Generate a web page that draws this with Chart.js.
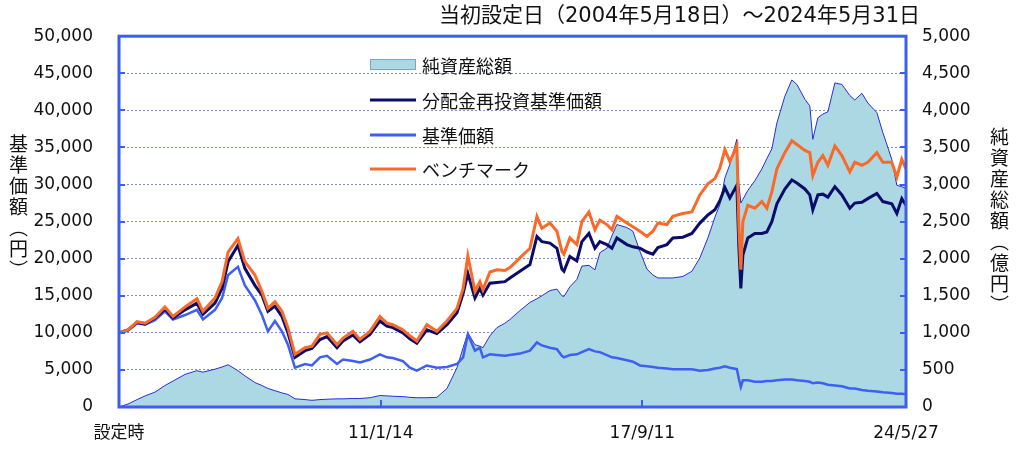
<!DOCTYPE html>
<html>
<head>
<meta charset="utf-8">
<script src="https://cdn.jsdelivr.net/npm/chart.js@4.4.1/dist/chart.umd.min.js"></script>
<style>
html,body{margin:0;padding:0;background:#fff;}
#wrap{position:relative;width:1024px;height:457px;overflow:hidden;}
#c{position:absolute;left:0;top:0;}
.t{position:absolute;color:#111;white-space:nowrap;z-index:2;}
#title{right:104px;top:3px;font-family:"DejaVu Sans","Noto Sans CJK JP",sans-serif;font-size:21px;line-height:24px;}
.vt{writing-mode:vertical-rl;font-family:"Noto Sans CJK JP",sans-serif;font-size:19px;line-height:19px;letter-spacing:2px;}
#ltitle{left:9px;top:134px;}
#rtitle{left:990px;top:127px;}
</style>
</head>
<body>
<div id="wrap">
  <canvas id="c" width="1024" height="457" style="width:1024px;height:457px;"></canvas>
  <div class="t" id="title">当初設定日（2004年5月18日）～2024年5月31日</div>
  <div class="t vt" id="ltitle">基準価額（円）</div>
  <div class="t vt" id="rtitle">純資産総額（億円）</div>
</div>
<script>
// ---- data ----
const dates = [
 '2004-05-18','2004-08-10','2004-11-02','2005-01-15','2005-04-17','2005-07-19','2005-10-02','2006-01-22','2006-05-12','2006-07-07',
 '2006-10-27','2007-01-01','2007-02-26','2007-05-28','2007-08-01','2007-11-02','2008-01-06','2008-03-02','2008-05-06','2008-07-10',
 '2008-09-04','2008-11-08','2009-02-10','2009-04-15','2009-06-29','2009-09-02','2009-12-04','2010-01-29','2010-05-01','2010-07-05',
 '2010-10-06','2011-01-07','2011-03-12','2011-05-07','2011-08-08','2011-10-12','2011-12-16','2012-03-18','2012-06-19','2012-09-21',
 '2012-12-23','2013-02-18','2013-04-03','2013-06-08','2013-07-24','2013-08-21','2013-10-25','2013-12-29',
 '2014-03-13','2014-04-29','2014-07-31','2014-11-01','2015-01-05','2015-02-20','2015-05-06','2015-07-10','2015-08-25','2015-09-13',
 '2015-11-07','2016-01-11','2016-02-27','2016-05-02','2016-06-27','2016-08-12','2016-10-16','2016-12-02','2017-01-17','2017-04-20',
 '2017-06-15','2017-08-19','2017-10-23','2017-12-18','2018-02-02','2018-04-27','2018-06-21','2018-09-22','2018-12-15','2019-02-27',
 '2019-05-13','2019-07-17','2019-09-01','2019-10-18','2019-12-03','2020-02-06','2020-02-25','2020-03-14','2020-04-02','2020-05-18',
 '2020-07-22','2020-09-25','2020-11-11','2020-12-27','2021-02-12','2021-04-27','2021-07-01','2021-08-17','2021-10-30','2021-12-15',
 '2022-01-12','2022-02-28','2022-04-15','2022-06-01','2022-08-05','2022-10-09','2022-12-22','2023-02-06','2023-04-13','2023-06-07',
 '2023-08-30','2023-10-25','2024-01-16','2024-03-03','2024-04-18','2024-05-27'
];
// ベンチマーク (円)
const benchmark = [
 10000,10400,11500,11300,12100,13500,12200,13500,14600,12900,
 14700,16900,20900,22700,19600,17800,15600,13300,14200,12900,
 10700,7100,8000,8200,9800,10000,8400,9300,10200,9100,
 10200,12200,11300,11100,10400,9600,8900,11100,10200,11600,
 13300,16000,20400,15600,16900,15800,18200,18500,
 18400,18800,20100,21400,25700,24100,24800,23700,21000,20600,
 22800,21900,25000,26300,23900,25200,24600,23900,25700,24800,
 24300,23700,23000,23700,24800,24600,25700,26100,26300,28600,
 30100,30800,32200,34700,33100,35200,24200,18500,25000,27200,
 26800,27700,26800,29000,32100,34300,35900,35400,34600,34300,
 31200,33000,33900,32600,35200,33900,31700,33000,32600,33000,
 34300,33000,33000,31000,33400,32100
];
// 分配金再投資基準価額 (円)
const reinvestNav = [
 10000,10400,11400,11200,12000,13200,12000,13100,14000,12500,
 14000,16000,19600,21800,18700,16400,15100,12900,13600,12200,
 10000,6700,7600,7900,9100,9500,8000,8900,9700,8800,
 9800,11600,10900,10700,10000,9200,8600,10400,9900,11100,
 12700,15300,18000,14700,16000,15100,16700,16800,
 16900,17400,18300,19200,23000,22300,22100,21400,18600,18300,
 20300,19700,22300,23400,21400,22300,21900,21400,22800,21900,
 21600,21400,20900,20600,21500,21900,22800,22900,23400,24800,
 25900,26600,27800,29600,28200,29900,21500,16000,20500,22800,
 23400,23400,23600,25000,27400,29400,30600,30200,29400,28600,
 26600,28600,28700,28300,29700,28600,26800,27500,27600,28100,
 28800,27700,27400,26100,28100,27200
];
// 基準価額 (円)
const nav = [
 10000,10300,11300,11100,11700,12900,11800,12400,13100,11800,
 13100,14700,17800,18900,16400,14400,12400,10200,11600,10200,
 8400,5300,5800,5600,6700,6900,5800,6400,6200,6000,
 6400,7100,6700,6600,6200,5300,4900,5600,5300,5400,
 5800,6700,9800,7600,8000,6700,7100,7000,
 6900,7000,7200,7600,8700,8300,8000,7800,6900,6700,
 7000,7100,7400,7800,7500,7400,7000,6700,6600,6300,
 6100,5600,5500,5400,5300,5200,5100,5100,5100,4900,
 5000,5200,5300,5500,5300,5100,3800,2700,3600,3600,
 3400,3400,3500,3500,3600,3700,3700,3600,3500,3400,
 3200,3300,3200,3000,2900,2800,2500,2500,2300,2200,
 2100,2000,1900,1800,1800,1700
];
// 純資産総額 (億円)
const netAssets = [
 0,40,100,150,200,290,350,440,490,470,
 510,540,570,490,420,330,290,250,220,190,
 170,110,100,90,100,105,110,110,115,115,
 125,155,150,145,140,130,125,125,130,250,
 530,800,1000,840,820,800,960,1070,
 1130,1180,1300,1410,1460,1500,1570,1590,1500,1490,
 1620,1720,1900,1910,1850,2080,2140,2310,2460,2420,
 2370,2100,1860,1780,1740,1740,1740,1760,1830,2010,
 2280,2560,2730,3090,3270,3610,3000,2750,2800,2920,
 3050,3210,3350,3480,3830,4190,4410,4350,4150,4060,
 3610,3900,3950,3980,4370,4350,4200,4140,4230,4100,
 3970,3700,3340,2990,2970,2950
];
const xTickDates = ['2004-05-18','2011-01-14','2017-09-11','2024-05-27'];
const xTickLabels = ['設定時','11/1/14','17/9/11','24/5/27'];
const legendLabels = ['純資産総額','分配金再投資基準価額','基準価額','ベンチマーク'];

// ---- chart ----
const T = d => Date.parse(d);
const pts = arr => dates.map((d,i)=>({x:T(d), y:arr[i]}));
const FAM = '"DejaVu Sans","Noto Sans CJK JP",sans-serif';
const AXIS = '#3b5ef0';
const C_ORANGE = '#f96a28', C_NAVY = '#0c0c6a', C_BLUE = '#3d5ff2', C_AREA = '#acd8e4', C_AREA_LINE = '#2b2fd4';

const framePlugin = {
  id:'frame',
  afterDatasetsDraw(chart){
    const {ctx, chartArea:a, scales} = chart;
    ctx.save();
    ctx.strokeStyle = AXIS;
    ctx.lineWidth = 2;
    scales.y.ticks.forEach(t=>{
      const yy = Math.round(scales.y.getPixelForValue(t.value));
      ctx.beginPath(); ctx.moveTo(a.left, yy); ctx.lineTo(a.left+6, yy); ctx.stroke();
    });
    scales.y2.ticks.forEach(t=>{
      const yy = Math.round(scales.y2.getPixelForValue(t.value));
      ctx.beginPath(); ctx.moveTo(a.right, yy); ctx.lineTo(a.right-6, yy); ctx.stroke();
    });
    scales.x.ticks.forEach(t=>{
      const xx = Math.round(scales.x.getPixelForValue(t.value));
      ctx.beginPath(); ctx.moveTo(xx, a.bottom); ctx.lineTo(xx, a.bottom-7); ctx.stroke();
    });
    ctx.lineWidth = 3;
    ctx.strokeRect(a.left, a.top, a.right-a.left, a.bottom-a.top);
    ctx.restore();
  }
};

const legendPlugin = {
  id:'inlegend',
  afterDatasetsDraw(chart){
    const ctx = chart.ctx;
    const rowsY = [65,100,135,169];
    const x0 = 370, x1 = 416, tx = 422;
    ctx.save();
    ctx.font = '18px "Noto Sans CJK JP", sans-serif';
    ctx.textBaseline = 'middle';
    legendLabels.forEach((lab,i)=>{
      const ds = chart.data.datasets.find(d=>d.label===lab);
      const y = rowsY[i];
      if (ds.fill) {
        ctx.fillStyle = ds.backgroundColor;
        ctx.fillRect(x0, y-6, x1-x0, 11);
        ctx.strokeStyle = '#7aa6c4'; ctx.lineWidth = 1;
        ctx.strokeRect(x0+0.5, y-5.5, x1-x0-1, 10);
      } else {
        ctx.strokeStyle = ds.borderColor; ctx.lineWidth = 3;
        ctx.beginPath(); ctx.moveTo(x0, y); ctx.lineTo(x1, y); ctx.stroke();
      }
      ctx.fillStyle = '#111';
      ctx.fillText(lab, tx, y+1);
    });
    ctx.restore();
  }
};

new Chart(document.getElementById('c'), {
  type:'line',
  data:{ datasets:[
    {label:'ベンチマーク', data:pts(benchmark), yAxisID:'y', borderColor:C_ORANGE, borderWidth:3, pointRadius:0, fill:false, order:0},
    {label:'分配金再投資基準価額', data:pts(reinvestNav), yAxisID:'y', borderColor:C_NAVY, borderWidth:3, pointRadius:0, fill:false, order:1},
    {label:'基準価額', data:pts(nav), yAxisID:'y', borderColor:C_BLUE, borderWidth:2.5, pointRadius:0, fill:false, order:2},
    {label:'純資産総額', data:pts(netAssets), yAxisID:'y2', borderColor:C_AREA_LINE, borderWidth:1, backgroundColor:C_AREA, pointRadius:0, fill:'origin', order:3}
  ]},
  options:{
    responsive:false, animation:false, devicePixelRatio:1,
    layout:{padding:{top:32,left:0,right:0,bottom:0}},
    plugins:{legend:{display:false}, tooltip:{enabled:false}, title:{display:false}},
    elements:{line:{tension:0}},
    scales:{
      x:{type:'linear', position:'bottom', min:T(xTickDates[0]), max:T(xTickDates[3]),
         afterBuildTicks(s){ s.ticks = xTickDates.map(d=>({value:T(d)})); },
         ticks:{autoSkip:false, maxRotation:0, minRotation:0, padding:16, color:'#111', font:{family:FAM, size:17},
                callback:(v,i)=>xTickLabels[i]},
         grid:{display:false, drawTicks:false}, border:{display:false},
         afterFit(s){ s.height = 50; }},
      y:{position:'left', min:0, max:50000,
         ticks:{stepSize:5000, padding:26, color:'#111', font:{family:FAM, size:17},
                callback:v=>v.toLocaleString('en-US')},
         grid:{drawTicks:false, lineWidth:1,
               color:c=>(c.tick && (c.tick.value===0 || c.tick.value===50000)) ? 'rgba(0,0,0,0)' : '#7f8fe0'},
         border:{display:false, dash:[2,2]},
         afterFit(s){ s.width = 119; }},
      y2:{position:'right', min:0, max:5000,
         ticks:{stepSize:500, padding:16, color:'#111', font:{family:FAM, size:17},
                callback:v=>v.toLocaleString('en-US')},
         grid:{display:false, drawTicks:false}, border:{display:false},
         afterFit(s){ s.width = 118; }}
    }
  },
  plugins:[framePlugin, legendPlugin]
});
</script>
</body>
</html>
